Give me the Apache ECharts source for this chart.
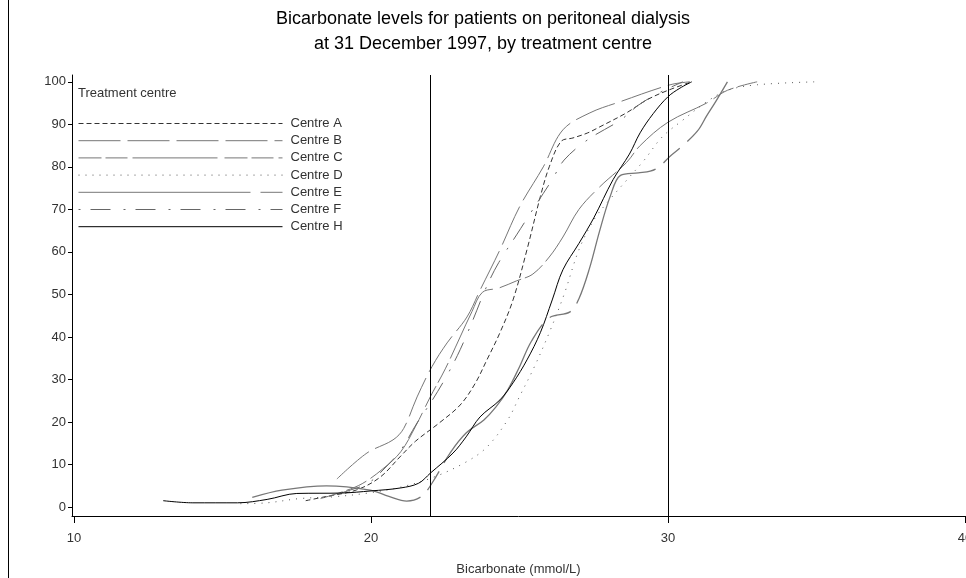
<!DOCTYPE html>
<html>
<head>
<meta charset="utf-8">
<script src="https://cdn.jsdelivr.net/npm/echarts@6/dist/echarts.min.js"></script>
<style>html,body{margin:0;padding:0;background:#fff}#c{width:966px;height:578px}</style>
</head>
<body>
<div id="c"></div>
<script>
const titleLines = ['Bicarbonate levels for patients on peritoneal dialysis', 'at 31 December 1997, by treatment centre'];
const xName = 'Bicarbonate (mmol/L)';
const legendTitle = 'Treatment centre';
const xTicks = [10, 20, 30, 40];
const yTicks = [0, 10, 20, 30, 40, 50, 60, 70, 80, 90, 100];
const refLines = [22, 30];
const centreNames = ['Centre A', 'Centre B', 'Centre C', 'Centre D', 'Centre E', 'Centre F', 'Centre H'];

const centreA = [[17.8,1.5],[18.5,2.5],[19.5,4],[20.3,7],[21.0,12],[21.5,15.5],[22.3,19.8],[23.0,24],[23.5,29],[23.9,34.6],[24.34,41],[24.78,48.7],[25.25,60.5],[25.7,73],[26.0,80],[26.4,86],[26.8,86.8],[27.3,88],[27.7,89.4],[28.6,92.7],[29.3,95.8],[30.0,98],[30.8,100]];
const centreB = [[18.85,6.6],[19.86,12.7],[20.74,15.8],[21.1,18.5],[21.55,25.9],[22.05,33],[22.56,38.6],[23.23,44.7],[23.67,51],[24.34,60.5],[25.0,70.6],[25.8,80],[26.46,88.7],[27.37,92.7],[28.38,95.3],[30.07,99.3],[30.74,100]];
const centreC = [[18.3,2],[19.0,3.5],[19.7,5.5],[20.4,9],[21.0,13],[21.5,19],[22.0,26],[22.5,32.5],[23.0,40],[23.4,46],[23.75,50.5],[24.3,51.5],[24.9,53.2],[25.45,54.8],[26.0,58.8],[26.46,63.5],[27.0,70],[27.7,75.3],[28.6,81],[29.06,85],[30.0,90.5],[31.3,95],[32.0,98],[33.0,100]];
const centreD = [[15.6,0.8],[16.5,1],[17.6,2],[18.7,2.4],[19.9,3.3],[21.0,4.7],[22.1,7],[23.2,10.6],[23.9,14.1],[24.6,20.5],[25.0,26],[25.5,33],[26.0,41],[26.5,50],[27.0,60.5],[27.5,67.5],[28.0,72],[28.7,77.6],[29.2,81.6],[29.8,87],[30.5,91],[31.3,95.3],[32.0,98],[33.0,99.3],[35.0,100]];
const centreE = [[16.0,2.3],[17.0,4],[18.5,5],[19.97,4],[20.6,2.5],[21.2,1.4],[21.7,2.5],[22.05,5.6],[22.66,12.7],[23.2,17.4],[23.8,20.5],[24.2,23.5],[24.6,27.5],[25.0,33],[25.4,39],[26.0,44.5],[26.7,45.9],[27.0,49],[27.35,56],[27.7,65],[28.05,73],[28.4,78],[29.0,78.6],[29.4,79],[29.7,80],[30.07,82.5],[30.5,85],[31.0,88.5],[31.3,92],[31.6,95.3],[32.0,100]];
const centreF = [[18.6,2.5],[19.3,4],[19.9,5.6],[20.4,8.7],[21.0,13.4],[21.55,19.8],[22.05,25],[22.56,31],[23.0,37],[23.43,44],[23.9,52],[24.3,57.5],[24.9,64],[25.45,70],[26.1,77],[26.5,81.6],[27.3,86.4],[28.4,91],[29.0,94.5],[29.7,97.4],[30.5,100]];
const centreH = [[13.0,1.5],[14.0,1],[15.5,1],[16.5,1.8],[17.5,3.2],[19.0,3.3],[20.0,3.8],[21.0,4.5],[21.6,5.6],[22.0,8],[22.76,12.7],[23.2,16.5],[23.67,21.2],[24.34,25.2],[24.78,29.2],[25.25,34.6],[25.7,41],[26.1,48.7],[26.46,55.8],[27.0,62],[27.5,68],[28.15,77],[28.7,83],[29.06,88],[29.5,92.5],[30.0,96.5],[30.4,98.5],[30.8,100]];

const centreData = [centreA, centreB, centreC, centreD, centreE, centreF, centreH];
const centreStyles = [
  {color:'#333', type:[5,3], width:1},
  {color:'#777', type:[42,7], width:1},
  {color:'#777', type:[23,4,22,5,85,7], width:1},
  {color:'#555', type:[1,6], width:1},
  {color:'#777', type:[172,10,22,10], width:1.3},
  {color:'#666', type:[2,10,20,13], width:1},
  {color:'#000', type:'solid', width:1}
];

const FONT = '"Liberation Sans", Arial, sans-serif';
const chart = echarts.init(document.getElementById('c'), null, {renderer:'canvas'});

const series = centreNames.map((n, i) => ({
  name: n,
  type: 'line',
  data: centreData[i],
  smooth: 0.35,
  showSymbol: false,
  symbol: 'none',
  silent: true,
  color: centreStyles[i].color,
  lineStyle: {color: centreStyles[i].color, width: centreStyles[i].width, type: centreStyles[i].type},
  z: 3
}));
series.push({
  type: 'line', data: [], silent: true,
  markLine: {
    silent: true, symbol: 'none', label: {show: false},
    lineStyle: {color: '#000', width: 1, type: 'solid'},
    data: refLines.map(v => ({xAxis: v}))
  }
});

chart.setOption({
  animation: false,
  backgroundColor: '#fff',
  grid: {left: 72, right: 1, top: 75, bottom: 62, containLabel: false, outerBoundsMode: 'none'},
  legend: {
    data: centreNames,
    orient: 'vertical',
    left: 78, top: 117, padding: 0,
    itemWidth: 204, itemHeight: 13, itemGap: 4.2,
    itemStyle: {opacity: 0},
    lineStyle: {width: 1},
    selectedMode: false,
    textStyle: {fontFamily: FONT, fontSize: 13, color: '#333', padding: [0,0,0,3]}
  },
  graphic: [
    {type: 'text', x: 483, y: 19, style: {text: titleLines[0], font: '18px ' + FONT, fill: '#000', textAlign: 'center', textVerticalAlign: 'middle'}},
    {type: 'text', x: 483, y: 44, style: {text: titleLines[1], font: '18px ' + FONT, fill: '#000', textAlign: 'center', textVerticalAlign: 'middle'}},
    {type: 'text', x: 78, y: 87, style: {text: legendTitle, font: '13px ' + FONT, fill: '#333'}},
    {type: 'line', shape: {x1: 8.5, y1: 0, x2: 8.5, y2: 578}, style: {stroke: '#000', lineWidth: 1}}
  ],
  xAxis: {
    type: 'value', min: 9.93, max: 40,
    name: xName, nameLocation: 'middle', nameGap: 47,
    nameTextStyle: {fontFamily: FONT, fontSize: 13, color: '#333'},
    axisLine: {show: true, onZero: false, lineStyle: {color: '#000', width: 1}},
    axisTick: {show: true, length: 7, customValues: xTicks, lineStyle: {color: '#000'}},
    axisLabel: {customValues: xTicks, margin: 16, fontFamily: FONT, fontSize: 13, color: '#333'},
    splitLine: {show: false}
  },
  yAxis: {
    type: 'value', min: -2.1, max: 101.6,
    axisLine: {show: true, onZero: false, lineStyle: {color: '#000', width: 1}},
    axisTick: {show: true, length: 4, customValues: yTicks, lineStyle: {color: '#000'}},
    axisLabel: {customValues: yTicks, margin: 6, fontFamily: FONT, fontSize: 13, color: '#333'},
    splitLine: {show: false}
  },
  series: series
});
</script>
</body>
</html>
